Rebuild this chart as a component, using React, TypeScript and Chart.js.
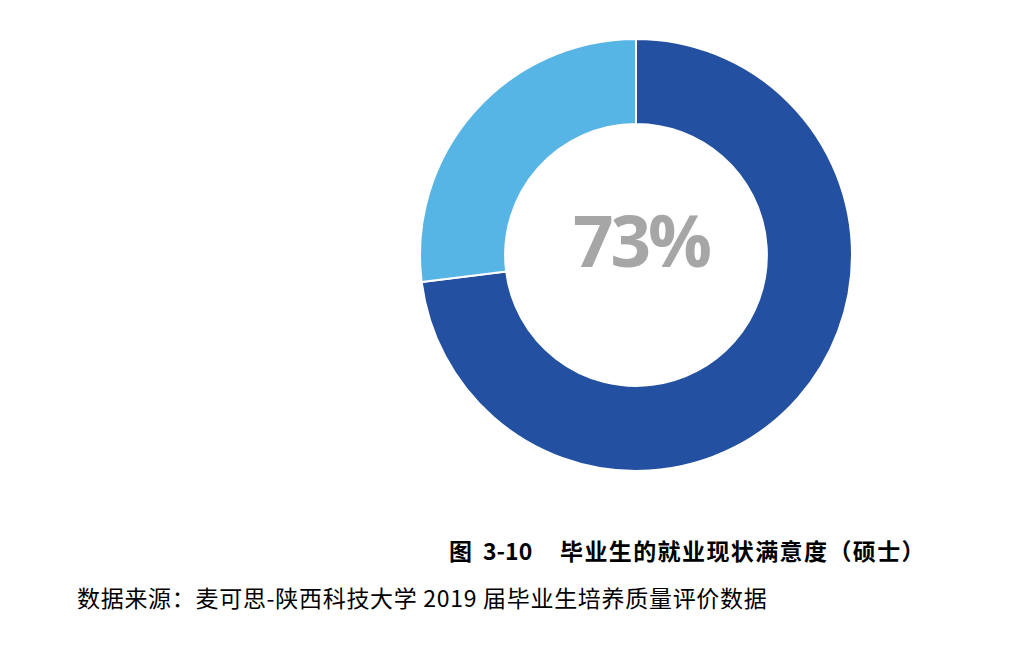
import { useEffect, useRef } from 'react';
import Chart from 'chart.js/auto';

const labels = ['满意', '不满意'];
const values = [73, 27];
const colors = ['#2350A0', '#56B5E5'];
const centerLabel = '73%';
const titleText = '毕业生的就业现状满意度（硕士）';
const sourceText = '数据来源：麦可思-陕西科技大学 2019 届毕业生培养质量评价数据';

const centerTextPlugin = {
    id: 'centerTextPlugin',
    afterDraw: (chart: any) => {
        const ctx = chart.ctx;
        const { left, right, top, bottom } = chart.chartArea;
        const cx = (left + right) / 2;
        const cy = (top + bottom) / 2;
        ctx.save();
        ctx.font = 'bold 71px "Open Sans"';
        (ctx as any).letterSpacing = '-3px';
        ctx.fillStyle = '#A6A6A6';
        ctx.textAlign = 'center';
        ctx.textBaseline = 'alphabetic';
        ctx.fillText(centerLabel, cx + 5, cy + 12);
        ctx.restore();
    }
};

const App: React.FC = () => {
    const chartRef = useRef<HTMLCanvasElement>(null);

    useEffect(() => {
        if (!chartRef.current) return;
        const chart = new Chart(chartRef.current, {
            type: 'doughnut',
            data: {
                labels: labels,
                datasets: [
                    {
                        data: values,
                        backgroundColor: colors,
                        borderColor: '#ffffff',
                        borderWidth: 2,
                        hoverOffset: 0
                    }
                ]
            },
            options: {
                responsive: false,
                animation: false,
                cutout: '60.6%',
                rotation: 0,
                layout: { padding: 0 },
                plugins: {
                    legend: { display: false },
                    tooltip: { enabled: false }
                }
            },
            plugins: [centerTextPlugin]
        });
        return () => {
            chart.destroy();
        };
    }, []);

    const cjk = '"Noto Sans CJK SC", "Noto Sans", sans-serif';

    return (
        <div style={{ position: 'absolute', left: 0, top: 0, width: 1029, height: 657, background: '#ffffff', overflow: 'hidden' }}>
            <canvas ref={chartRef} width={434} height={434}
                style={{ position: 'absolute', left: 419, top: 38, width: 434, height: 434 }} />
            <div style={{ position: 'absolute', left: 449, top: 539, fontFamily: cjk, fontWeight: 'bold', fontSize: 23, lineHeight: '23px', color: '#000', whiteSpace: 'nowrap' }}>
                <span style={{ position: 'absolute', left: 0 }}>图</span>
                <span style={{ position: 'absolute', left: 34 }}>3-10</span>
                <span style={{ position: 'absolute', left: 111, letterSpacing: '1.4px' }}>{titleText}</span>
            </div>
            <div style={{ position: 'absolute', left: 77, top: 586, fontFamily: cjk, fontSize: 23, lineHeight: '23px', color: '#000', whiteSpace: 'nowrap', letterSpacing: '0.7px' }}>
                {sourceText}
            </div>
        </div>
    );
};

export default App;
